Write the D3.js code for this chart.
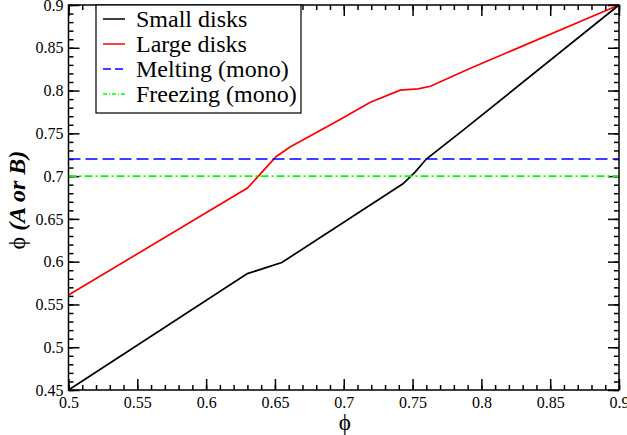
<!DOCTYPE html>
<html>
<head>
<meta charset="utf-8">
<script src="https://cdn.jsdelivr.net/npm/d3@7"></script>
<style>
  body { margin: 0; background: #fff; }
  svg text { font-family: "Liberation Serif", "Times New Roman", Times, serif !important; }
</style>
</head>
<body>
<div id="chart"></div>
<script>
// values
var smallX = [0.5, 0.63, 0.655, 0.719, 0.743, 0.752, 0.76, 0.787, 0.9];
var smallY = [0.45, 0.586, 0.599, 0.666, 0.691, 0.705, 0.72, 0.754, 0.9];
var largeX = [0.5, 0.63, 0.651, 0.661, 0.697, 0.719, 0.741, 0.754, 0.763, 0.792, 0.9];
var largeY = [0.561, 0.686, 0.723, 0.734, 0.766, 0.786, 0.8005, 0.802, 0.805, 0.826, 0.9];
var meltingY = 0.72;
var freezingY = 0.70;
var legendNames = ["Small disks", "Large disks", "Melting (mono)", "Freezing (mono)"];
var xTicks = [0.5, 0.55, 0.6, 0.65, 0.7, 0.75, 0.8, 0.85, 0.9];
var yTicks = [0.45, 0.5, 0.55, 0.6, 0.65, 0.7, 0.75, 0.8, 0.85, 0.9];

var W = 627, H = 435;
var margin = {top: 5, right: 8, bottom: 45, left: 68.5};
var width = W - margin.left - margin.right,
    height = H - margin.top - margin.bottom;

var svg = d3.select("#chart").append("svg")
    .attr("width", W)
    .attr("height", H);

var x = d3.scaleLinear().domain([0.5, 0.9]).range([0, width]),
    y = d3.scaleLinear().domain([0.45, 0.9]).range([height, 0]);

var g = svg.append("g")
    .attr("transform", "translate(" + margin.left + "," + margin.top + ")");

// minor ticks every 0.01, major every 0.05, all pointing inward
var minorX = d3.range(50, 91).map(function(d) { return d / 100; });
var minorY = d3.range(45, 91).map(function(d) { return d / 100; });

function fmt(d) { return String(+d.toFixed(2)); }

var xAxis = d3.axisBottom(x).tickValues(xTicks).tickSize(-11).tickPadding(16).tickFormat(fmt),
    yAxis = d3.axisLeft(y).tickValues(yTicks).tickSize(-11).tickPadding(16).tickFormat(fmt);

function styleAxis(sel) {
  sel.attr("font-family", null);
  sel.select(".domain").remove();
  sel.selectAll("line").attr("stroke", "#000").attr("stroke-width", 1.5);
  sel.selectAll("text").attr("font-size", 16).attr("fill", "#000");
}

g.append("g").attr("class", "xlab").attr("transform", "translate(0," + height + ")")
  .call(xAxis).call(styleAxis);
g.append("g").attr("class", "ylab").call(yAxis).call(styleAxis);
g.append("g").attr("transform", "translate(0," + height + ")")
  .call(d3.axisBottom(x).tickValues(minorX).tickSize(-5).tickFormat(""))
  .call(styleAxis);
g.append("g")
  .call(d3.axisLeft(y).tickValues(minorY).tickSize(-5).tickFormat(""))
  .call(styleAxis);
// mirrored ticks on top and right
g.append("g")
  .call(d3.axisTop(x).tickValues(xTicks).tickSize(-11).tickFormat(""))
  .call(styleAxis);
g.append("g")
  .call(d3.axisTop(x).tickValues(minorX).tickSize(-5).tickFormat(""))
  .call(styleAxis);
g.append("g").attr("transform", "translate(" + width + ",0)")
  .call(d3.axisRight(y).tickValues(yTicks).tickSize(-11).tickFormat(""))
  .call(styleAxis);
g.append("g").attr("transform", "translate(" + width + ",0)")
  .call(d3.axisRight(y).tickValues(minorY).tickSize(-5).tickFormat(""))
  .call(styleAxis);

// place the tick labels like the reference
g.selectAll(".xlab .tick text").attr("dy", "0.35em").attr("y", 12);
g.selectAll(".ylab .tick text").attr("x", -5);

var line = d3.line()
    .x(function(d) { return x(d[0]); })
    .y(function(d) { return y(d[1]); });

var plot = g.append("g");

plot.append("path")
    .datum(d3.zip(largeX, largeY))
    .attr("d", line)
    .attr("fill", "none")
    .attr("stroke", "#ff0000")
    .attr("stroke-width", 1.7);

plot.append("path")
    .datum(d3.zip(smallX, smallY))
    .attr("d", line)
    .attr("fill", "none")
    .attr("stroke", "#000")
    .attr("stroke-width", 1.7);

plot.append("path")
    .datum([[0.5, meltingY], [0.9, meltingY]])
    .attr("d", line)
    .attr("fill", "none")
    .attr("stroke", "#0000ff")
    .attr("stroke-width", 1.7)
    .attr("stroke-dasharray", "12,5");

plot.append("path")
    .datum([[0.5, freezingY], [0.9, freezingY]])
    .attr("d", line)
    .attr("fill", "none")
    .attr("stroke", "#00ff00")
    .attr("stroke-width", 1.7)
    .attr("stroke-dasharray", "8,3,2,3");

// frame
g.append("rect")
    .attr("width", width).attr("height", height)
    .attr("fill", "none").attr("stroke", "#000").attr("stroke-width", 1.5);

// legend
var legendStyles = [
  {color: "#000", dash: null},
  {color: "#ff0000", dash: null},
  {color: "#0000ff", dash: "8,4"},
  {color: "#00ff00", dash: "4,2,1,2"}
];
var legend = svg.append("g").attr("transform", "translate(96,5)");
legend.append("rect")
    .attr("width", 205).attr("height", 108)
    .attr("fill", "#fff").attr("stroke", "#000").attr("stroke-width", 1.2);
legendNames.forEach(function(name, i) {
  var ly = 14 + i * 25;
  legend.append("line")
      .attr("x1", 7).attr("x2", 29).attr("y1", ly).attr("y2", ly)
      .attr("stroke", legendStyles[i].color).attr("stroke-width", 1.5)
      .attr("stroke-dasharray", legendStyles[i].dash);
  legend.append("text")
      .attr("x", 40).attr("y", ly + 8)
      .attr("font-size", 24)
      .text(name);
});

// axis titles
svg.append("text")
    .attr("x", margin.left + x(0.7) + 1).attr("y", 430)
    .attr("text-anchor", "middle").attr("font-size", 23)
    .text("\u03d5");

var yl = svg.append("text")
    .attr("transform", "translate(25," + (margin.top + y(0.672)) + ") rotate(-90)")
    .attr("text-anchor", "middle").attr("font-size", 24);
yl.append("tspan").text("\u03d5 ");
yl.append("tspan").attr("font-weight", "bold").attr("font-style", "italic").text("(A or B)");
</script>
</body>
</html>
